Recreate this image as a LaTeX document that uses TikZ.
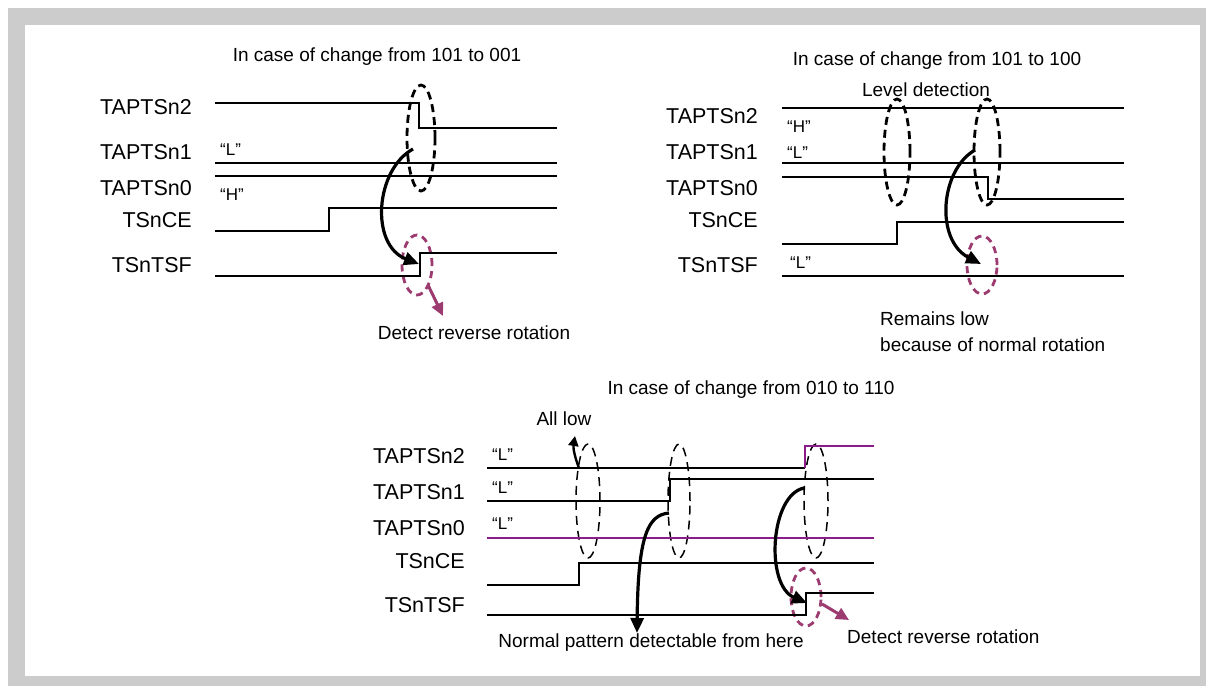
\documentclass[tikz,border=0pt]{standalone}
\usepackage{fontspec}
\setmainfont{Liberation Sans}
\usetikzlibrary{arrows.meta}
\definecolor{framegray}{HTML}{CCCCCC}
\definecolor{plum}{HTML}{9B3B6F}
\definecolor{sigviolet}{HTML}{8C1C8C}
\tikzset{
  siglabel/.style={anchor=east, inner sep=0pt, font=\fontsize{21.5}{24}\selectfont},
  levellabel/.style={anchor=west, inner sep=0pt, font=\fontsize{17}{19}\selectfont},
  note/.style={inner sep=0pt, align=left, font=\fontsize{19}{26}\selectfont},
  sigline/.style={line width=2.1pt},
  detring/.style={draw=black, line width=2.8pt, dash pattern=on 8pt off 5pt},
  thinring/.style={draw=black, line width=1.5pt, dash pattern=on 9pt off 6pt},
  flagring/.style={draw=plum, line width=2.8pt, dash pattern=on 7pt off 5pt},
  causearrow/.style={-{Triangle[length=15pt,width=13pt]}, line width=3.2pt},
  smallarrow/.style={-{Triangle[length=10pt,width=10pt]}, line width=2.4pt},
  flagarrow/.style={-{Triangle[length=13pt,width=12pt]}, line width=3pt, color=plum}
}

\begin{document}
\begin{tikzpicture}[x=1pt,y=-1pt]
  \useasboundingbox (0,0) rectangle (1206,686);
  \fill[framegray] (8,8) rectangle (1206,686);
  \fill[white] (25,25) rectangle (1200,676);

  % 101 -> 001
  \node (titleA) at (377,57) [note] {In case of change from 101 to 001};
  \node[siglabel] (a2) at (192,107) {TAPTSn2};
  \node[siglabel] (a1) at (192,152) {TAPTSn1};
  \node[siglabel] (a0) at (192,188) {TAPTSn0};
  \node[siglabel] (ace) at (192,220) {TSnCE};
  \node[siglabel] (atsf) at (192,265) {TSnTSF};
  \node[levellabel] (aL) at (220,150) {“L”};
  \node[levellabel] (aH) at (220,195) {“H”};

  \draw[detring] (421,138) ellipse [x radius=14pt, y radius=53pt];
  \draw[flagring] (417,265) ellipse [x radius=15pt, y radius=30pt];
  \draw[sigline] (215,103) -- (419,103) -- (419,128) -- (557,128);
  \draw[sigline] (215,163) -- (557,163);
  \draw[sigline] (215,176) -- (557,176);
  \draw[sigline] (215,231) -- (329,231) -- (329,208) -- (557,208);
  \draw[sigline] (215,276) -- (420,276) -- (420,253) -- (557,253);

  \coordinate (aArrS) at (413,149);
  \coordinate (aArrE) at (419,264);
  \coordinate (aFlagS) at (428,285);
  \coordinate (aFlagE) at (443,316);
  \draw[causearrow] (aArrS) .. controls (375,170) and (370,245) .. (aArrE);
  \draw[flagarrow] (aFlagS) -- (aFlagE);
  \node[note] (detectA) at (474,333) {Detect reverse rotation};

  % 101 -> 100
  \node[note] (titleB) at (937,61) {In case of change from 101 to 100};
  \node[note] (level) at (926,90) {Level detection};
  \node[siglabel] (b2) at (758,116) {TAPTSn2};
  \node[siglabel] (b1) at (758,152) {TAPTSn1};
  \node[siglabel] (b0) at (758,188) {TAPTSn0};
  \node[siglabel] (bce) at (758,220) {TSnCE};
  \node[siglabel] (btsf) at (758,265) {TSnTSF};
  \node[levellabel] (bH) at (787,127) {“H”};
  \node[levellabel] (bL) at (787,153) {“L”};
  \node[levellabel] (bLt) at (790,263) {“L”};

  \draw[detring] (897,152) ellipse [x radius=13pt, y radius=53pt];
  \draw[detring] (987,152) ellipse [x radius=13pt, y radius=53pt];
  \draw[flagring] (982,265) ellipse [x radius=15pt, y radius=29pt];
  \draw[sigline] (782,108) -- (1124,108);
  \draw[sigline] (782,163) -- (1124,163);
  \draw[sigline] (782,177) -- (988,177) -- (988,199) -- (1124,199);
  \draw[sigline] (782,244) -- (897,244) -- (897,222) -- (1124,222);
  \draw[sigline] (782,276) -- (1124,276);

  \coordinate (bArrS) at (975,150);
  \coordinate (bArrE) at (981,264);
  \draw[causearrow] (bArrS) .. controls (940,170) and (935,240) .. (bArrE);
  \node[note, anchor=west] (remains) at (880,332) {Remains low\\because of normal rotation};

  % 010 -> 110
  \node[note] (titleC) at (751,390) {In case of change from 010 to 110};
  \node[note] (alllow) at (564,419) {All low};
  \node[siglabel] (c2) at (465,456) {TAPTSn2};
  \node[siglabel] (c1) at (465,492) {TAPTSn1};
  \node[siglabel] (c0) at (465,528) {TAPTSn0};
  \node[siglabel] (cce) at (465,561) {TSnCE};
  \node[siglabel] (ctsf) at (465,605) {TSnTSF};
  \node[levellabel] (cL2) at (492,455) {“L”};
  \node[levellabel] (cL1) at (492,488) {“L”};
  \node[levellabel] (cL0) at (492,524) {“L”};

  \draw[thinring] (588,501) ellipse [x radius=12pt, y radius=57pt];
  \draw[thinring] (679,501) ellipse [x radius=11pt, y radius=57pt];
  \draw[thinring] (816,501) ellipse [x radius=12pt, y radius=57pt];
  \draw[flagring] (806,597) ellipse [x radius=15pt, y radius=29pt];
  \draw[sigline] (487,468) -- (805,468);
  \draw[sigline, sigviolet] (805,468) -- (805,446) -- (874,446);
  \draw[sigline] (487,501) -- (670,501) -- (670,479) -- (874,479);
  \draw[sigline, sigviolet] (487,538) -- (874,538);
  \draw[sigline] (487,585) -- (579,585) -- (579,563) -- (874,563);
  \draw[sigline] (487,615) -- (806,615) -- (806,593) -- (874,593);

  \coordinate (cLowS) at (579,468);
  \coordinate (cLowE) at (575,436);
  \coordinate (cNormS) at (669,513);
  \coordinate (cNormE) at (637,633);
  \coordinate (cRevS) at (804,488);
  \coordinate (cRevE) at (807,603);
  \coordinate (cFlagS) at (822,604);
  \coordinate (cFlagE) at (849,620);
  \draw[smallarrow] (cLowS) .. controls (575,458) and (573,448) .. (cLowE);
  \draw[causearrow] (cNormS) .. controls (648,515) and (638,535) .. (cNormE);
  \draw[causearrow] (cRevS) .. controls (770,495) and (765,585) .. (cRevE);
  \draw[flagarrow] (cFlagS) -- (cFlagE);
  \node[note] (normal) at (651,643) {Normal pattern detectable from here};
  \node[note, anchor=west] (detectC) at (847,637) {Detect reverse rotation};
\end{tikzpicture}
\end{document}
